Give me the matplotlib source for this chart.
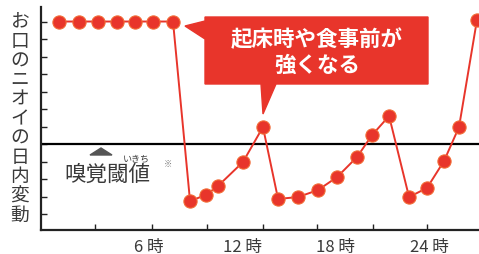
import matplotlib
matplotlib.use("Agg")
import matplotlib.pyplot as plt
from matplotlib.patches import Polygon

plt.rcParams['font.family'] = ['Noto Sans CJK JP', 'DejaVu Sans']

# hours and odour level
hours = [0.27, 1.55, 2.77, 3.99, 5.14, 6.29, 7.57, 8.66, 9.68, 10.45, 12.05, 13.33,
         14.3, 15.58, 16.86, 18.08, 19.36, 20.32, 21.41, 22.69, 23.84, 24.93, 25.89, 27.04]
level = [12.0, 12.0, 12.0, 12.0, 12.0, 12.0, 12.0, 1.74, 2.09, 2.6, 3.97, 5.97,
         1.86, 1.97, 2.37, 3.11, 4.26, 5.51, 6.6, 1.97, 2.49, 4.03, 5.97, 12.09]
threshold = 5.0
minor_ticks = [2.57, 6.22, 9.75, 13.34, 16.79, 20.38, 23.84]
label_hours = [6, 12, 18, 24]
label_text = ["6 時", "12 時", "18 時", "24 時"]
ylabel = "お口のニオイの日内変動"
callout = "起床時や食事前が\n強くなる"

W, H = 479, 255
red = '#e8352b'
grey = '#3a3a3a'

fig = plt.figure(figsize=(W / 100, H / 100), dpi=100)
ax = fig.add_axes([41 / W, 1 - 231 / H, 1 - 41 / W, 223 / H])


def px(x, y):
    return (x / W, 1 - y / H)


ax.set_xlim(-0.886, 27.17)
ax.set_ylim(0.086, 12.83)

ax.axhline(threshold, color='black', lw=1.6, zorder=2)
ax.plot(hours, level, color=red, lw=1.4, marker='o', ms=9.5,
        mfc=red, mec='#f26a35', mew=0.8, zorder=3, clip_on=False)

for s in ['top', 'right']:
    ax.spines[s].set_visible(False)
for s in ['left', 'bottom']:
    ax.spines[s].set_linewidth(1.6)
    ax.spines[s].set_color('#222222')

ax.set_xticks(minor_ticks)
ax.set_xticklabels([])
ax.set_yticks(range(1, 13))
ax.set_yticklabels([])
ax.tick_params(direction='in', length=4, width=1.0, color='#222222')

for h, t in zip(label_hours, label_text):
    ax.text(h, -0.85, t, ha='center', va='center', fontsize=12, color=grey)

# vertical axis title
for i, ch in enumerate(ylabel):
    fig.text(*px(20, 22 + i * 19.3), ch, ha='center', va='center',
             fontsize=13.5, color=grey)

# threshold label
fig.patches.append(Polygon([px(90, 156), px(112, 156), px(101, 149)],
                           closed=True, color='#555555', transform=fig.transFigure))
fig.text(*px(107, 175), "嗅覚閾値", ha='center', va='center', fontsize=15.5, color=grey)
fig.text(*px(136, 158.5), "いきち", ha='center', va='center', fontsize=6.5, color=grey)
fig.text(*px(168, 164), "※", ha='center', va='center', fontsize=6, color='#777777')

# callout
box = [px(205, 18), px(428, 18), px(428, 85), px(276, 85), px(263, 115),
       px(261, 85), px(205, 85), px(205, 40), px(185, 27), px(205, 22)]
fig.patches.append(Polygon(box, closed=True, color=red, transform=fig.transFigure, zorder=5))
fig.text(*px(317, 52), callout, ha='center', va='center', fontsize=15.5,
         fontweight='bold', color='white', linespacing=1.25, zorder=6)

fig.savefig("out.png", dpi=100)
